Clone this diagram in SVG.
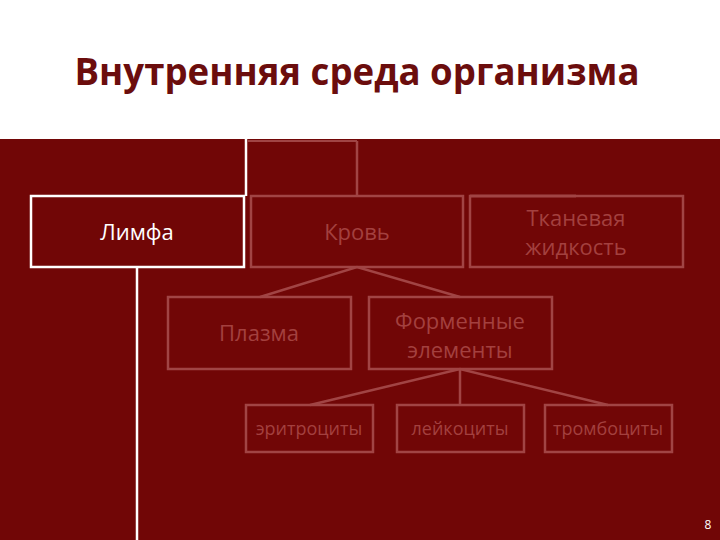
<svg xmlns="http://www.w3.org/2000/svg" width="720" height="540" viewBox="0 0 720 540">
<style>
.box{fill:none;stroke:#a14444;stroke-width:2.5}
.hi{fill:none;stroke:#ffffff;stroke-width:2.5}
.t{font-family:"Open Sans","DejaVu Sans",sans-serif;font-size:22px;fill:#a3403f;text-anchor:middle}
.ts{font-family:"Open Sans","DejaVu Sans",sans-serif;font-size:18px;fill:#a3403f;text-anchor:middle}
.con{stroke:#a14444;stroke-width:2.5;fill:none}
</style>
<rect x="0" y="0" width="720" height="540" fill="#ffffff"/>
<text x="357" y="85" font-family="'Open Sans','DejaVu Sans',sans-serif" font-weight="bold" font-size="38" fill="#6b0d0d" text-anchor="middle" textLength="565" lengthAdjust="spacingAndGlyphs">Внутренняя среда организма</text>
<rect x="0" y="139" width="720" height="401" fill="#710606"/>
<g id="connectors">
<line x1="246" y1="138" x2="246" y2="196" stroke="#ffffff" stroke-width="2.5"/>
<line x1="248" y1="141" x2="357" y2="141" stroke="#b05a5a" stroke-width="1.5"/>
<line x1="357" y1="141" x2="357" y2="196" class="con"/>
<line x1="470" y1="196" x2="576" y2="196" stroke="#b86a6a" stroke-width="2.5"/>
<line x1="137" y1="267" x2="137" y2="540" stroke="#ffffff" stroke-width="2.5"/>
<polyline class="con" points="260,297 357,267 460,297"/>
<polyline class="con" points="310,405 460,369 608,405"/>
<line class="con" x1="460" y1="369" x2="460" y2="405"/>
</g>
<g id="lymph"><rect class="hi" x="31" y="196" width="213" height="71"/><text x="137" y="240" font-family="'Open Sans','DejaVu Sans',sans-serif" font-size="22" fill="#ffffff" text-anchor="middle">Лимфа</text></g>
<g id="blood"><rect class="box" x="251" y="196" width="212" height="71"/><text class="t" x="357" y="240">Кровь</text></g>
<g id="tissue"><rect class="box" x="470" y="196" width="213" height="71"/><text class="t" x="576" y="226">Тканевая</text><text class="t" x="576" y="255">жидкость</text></g>
<g id="plasma"><rect class="box" x="168" y="297" width="183" height="72"/><text class="t" x="259" y="341">Плазма</text></g>
<g id="formed"><rect class="box" x="369" y="297" width="183" height="72"/><text class="t" x="460" y="329">Форменные</text><text class="t" x="460" y="358">элементы</text></g>
<g id="eryth"><rect class="box" x="246" y="405" width="127" height="47"/><text class="ts" x="309" y="435">эритроциты</text></g>
<g id="leuko"><rect class="box" x="397" y="405" width="127" height="47"/><text class="ts" x="460" y="435">лейкоциты</text></g>
<g id="throm"><rect class="box" x="545" y="405" width="127" height="47"/><text class="ts" x="608" y="435">тромбоциты</text></g>
<text x="708" y="529" font-family="'Open Sans','DejaVu Sans',sans-serif" font-size="12" fill="#ffffff" text-anchor="middle">8</text>
</svg>
